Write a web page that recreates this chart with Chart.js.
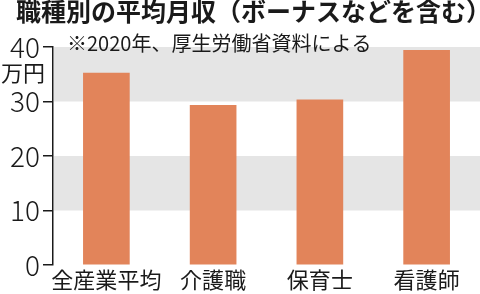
<!DOCTYPE html>
<html>
<head>
<meta charset="utf-8">
<script src="https://cdn.jsdelivr.net/npm/chart.js@4"></script>
<style>
  html, body { margin: 0; padding: 0; background: #fff; }
  #wrap { position: relative; width: 480px; height: 294px; }
</style>
</head>
<body>
<div id="wrap"><canvas id="salaryChart" width="480" height="294"></canvas></div>
<script>
const JP_FONT = '"Noto Sans CJK JP", "Noto Sans", sans-serif';
const TITLE = '職種別の平均月収（ボーナスなどを含む）';
const NOTE = '※2020年、厚生労働省資料による';
const UNIT = '万円';
const categories = ['全産業平均', '介護職', '保育士', '看護師'];
const salary = [35.2, 29.3, 30.3, 39.4];
const yTicks = [0, 10, 20, 30, 40];
const bands = [[10, 20], [30, 40]];

const decor = {
    id: 'decor',
    beforeDatasetsDraw(chart) {
        const { ctx, chartArea, scales } = chart;
        ctx.save();
        ctx.fillStyle = '#e5e5e5';
        bands.forEach(([lo, hi]) => {
            const top = scales.y.getPixelForValue(hi);
            const bot = scales.y.getPixelForValue(lo);
            ctx.fillRect(chartArea.left + 1, top, chart.width - chartArea.left, bot - top);
        });
        ctx.restore();
    },
    afterDraw(chart) {
        const ctx = chart.ctx;
        ctx.save();
        ctx.fillStyle = '#1a1a1a';
        ctx.textBaseline = 'top';
        ctx.font = `bold 25px ${JP_FONT}`;
        ctx.fillText(TITLE, 16, -1);
        ctx.font = `20px ${JP_FONT}`;
        ctx.fillText(NOTE, 67, 33);
        ctx.font = `22px ${JP_FONT}`;
        ctx.fillText(UNIT, 1, 62);
        ctx.restore();
    }
};

new Chart(document.getElementById('salaryChart'), {
    type: 'bar',
    data: {
        labels: categories,
        datasets: [{
            data: salary,
            backgroundColor: '#e2845a',
            barThickness: 46
        }]
    },
    options: {
        responsive: false,
        animation: false,
        layout: { padding: { top: 47, right: 0, left: 0, bottom: 0 } },
        plugins: { legend: { display: false }, tooltip: { enabled: false } },
        scales: {
            x: {
                grid: { display: false, drawTicks: false },
                border: { display: false },
                ticks: {
                    color: '#1a1a1a', font: { family: JP_FONT, size: 22 }, padding: 1,
                    maxRotation: 0, minRotation: 0, autoSkip: false
                },
                afterFit: s => { s.height = 29; }
            },
            y: {
                min: 0,
                max: 40,
                afterBuildTicks: s => { s.ticks = yTicks.map(v => ({ value: v })); },
                grid: { drawOnChartArea: false, drawTicks: true, tickLength: 10, color: '#1a1a1a', lineWidth: 1.5 },
                border: { display: true, color: '#1a1a1a', width: 1.5 },
                ticks: { color: '#1a1a1a', font: { family: JP_FONT, size: 28, weight: '300' }, padding: 3 },
                afterFit: s => { s.width = 53; }
            }
        }
    },
    plugins: [decor]
});
</script>
</body>
</html>
